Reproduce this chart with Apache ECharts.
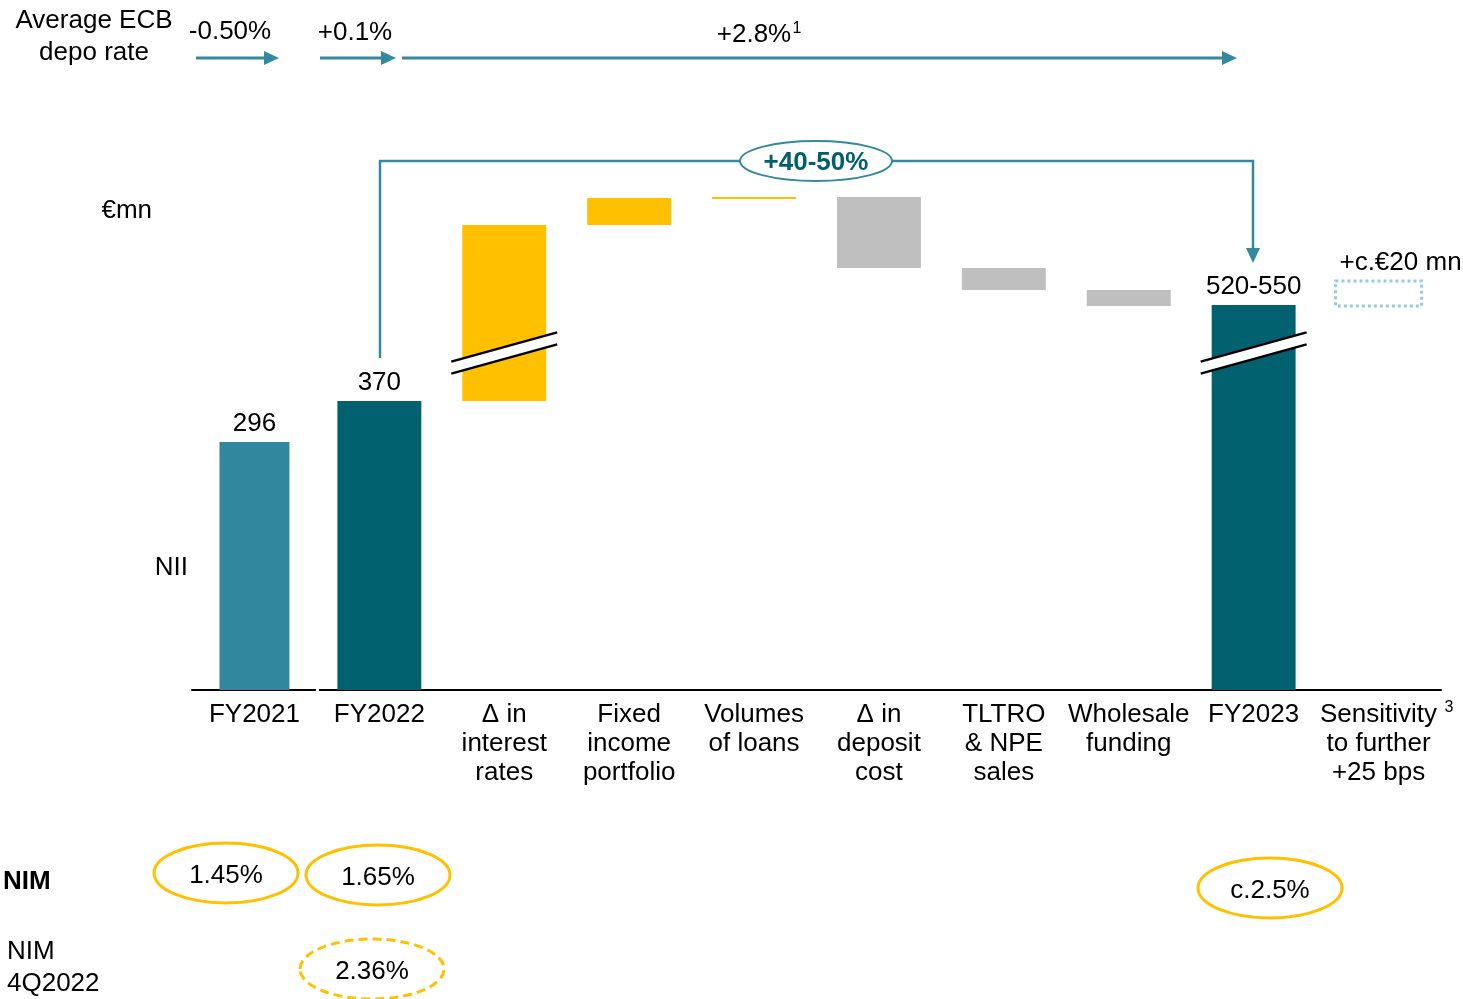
<!DOCTYPE html>
<html>
<head>
<meta charset="utf-8">
<title>NII bridge FY2022 - FY2023</title>
<script src="https://cdn.jsdelivr.net/npm/echarts@6/dist/echarts.min.js"></script>
<style>
  html, body { margin: 0; padding: 0; background: #fff; }
  #chart { width: 1463px; height: 999px; }
</style>
</head>
<body>
<div id="chart"></div>
<script>
// categories along the bridge
const categories = [
  'FY2021', 'FY2022', 'Δ in\ninterest\nrates', 'Fixed\nincome\nportfolio',
  'Volumes\nof loans', 'Δ in\ndeposit\ncost', 'TLTRO\n& NPE\nsales',
  'Wholesale\nfunding', 'FY2023', 'Sensitivity\nto further\n+25 bps'
]
// bar bottoms / tops, in the drawing scale of the slide (axis is broken, not to scale)
const barLow  = [0,   0,   289, 465, 491.5, 422, 400, 384, 0,   384]
const barHigh = [248, 289, 465, 492, 493,   493, 422, 400, 385, 409]
const barKind = ['prev', 'base', 'up', 'up', 'up', 'down', 'down', 'down', 'base', 'sens']
const barLabels = ['296', '370', '', '', '', '', '', '', '520-550', '+c.€20 mn']
const brokenBars = [2, 8]

// ECB depo rate path (top arrows)
const rateLabels = ['-0.50%', '+0.1%', '+2.8%']
// NIM bubbles
const nimLabels = ['1.45%', '1.65%', 'c.2.5%']
const nim4QLabel = '2.36%'
const growthLabel = '+40-50%'

const FONT = "'Liberation Sans', Arial, sans-serif"
const TEAL = '#338a9f'
const colors = {
  prev: '#31879e',
  base: '#02616f',
  up: '#ffc000',
  down: '#bfbfbf',
  sens: '#92cddc',
}

const chart = echarts.init(document.getElementById('chart'))

function renderItem(params, api) {
  const i = api.value(0)
  const lo = api.value(1)
  const hi = api.value(2)
  const kind = barKind[i]
  const band = api.size([1, 0])[0]
  const w = band * (i === 0 ? 0.56 : kind === 'sens' ? 0.69 : 0.672)
  const top = api.coord([i, hi])
  const bot = api.coord([i, lo])
  const cx = top[0]
  const h = Math.max(2, bot[1] - top[1])
  const children = []

  if (kind === 'sens') {
    children.push({
      type: 'rect',
      shape: { x: cx - w / 2, y: top[1], width: w, height: h },
      style: { fill: null, stroke: colors.sens, lineWidth: 3, lineDash: [3, 3] },
    })
  } else {
    children.push({
      type: 'rect',
      shape: { x: cx - w / 2, y: top[1], width: w, height: h },
      style: { fill: colors[kind] },
    })
  }

  if (brokenBars.includes(i)) {
    const cy = api.coord([i, 337])[1]
    const dx = w / 2 + 11
    const dy = dx * 0.276
    const gap = 6
    children.push({
      type: 'polygon',
      shape: { points: [[cx - dx, cy - gap + dy], [cx + dx, cy - gap - dy], [cx + dx, cy + gap - dy], [cx - dx, cy + gap + dy]] },
      style: { fill: '#fff' },
    })
    children.push({
      type: 'line',
      shape: { x1: cx - dx, y1: cy - gap + dy, x2: cx + dx, y2: cy - gap - dy },
      style: { stroke: '#000', lineWidth: 2.5 },
    })
    children.push({
      type: 'line',
      shape: { x1: cx - dx, y1: cy + gap + dy, x2: cx + dx, y2: cy + gap - dy },
      style: { stroke: '#000', lineWidth: 2.5 },
    })
  }

  if (barLabels[i]) {
    const isSens = kind === 'sens'
    children.push({
      type: 'text',
      style: {
        text: barLabels[i],
        x: isSens ? cx - w / 2 + 4 : cx,
        y: top[1] - 18,
        align: isSens ? 'left' : 'center',
        verticalAlign: 'middle',
        font: `26px ${FONT}`,
        fill: '#000',
      },
    })
  }

  return { type: 'group', children }
}

function arrow(x1, x2, y) {
  return [
    { type: 'line', shape: { x1, y1: y, x2: x2 - 12, y2: y }, style: { stroke: TEAL, lineWidth: 3 } },
    { type: 'polygon', shape: { points: [[x2 - 15, y - 7], [x2, y], [x2 - 15, y + 7]] }, style: { fill: TEAL } },
  ]
}

function txt(text, x, y, opts = {}) {
  return {
    type: 'text',
    z: 10,
    style: {
      text,
      x,
      y: y + 2,
      align: opts.align || 'center',
      verticalAlign: 'middle',
      font: `${opts.bold ? 'bold ' : ''}${opts.size || 26}px ${FONT}`,
      fill: opts.color || '#000',
    },
  }
}

function bubble(text, cx, cy, dashed) {
  return [
    {
      type: 'ellipse',
      shape: { cx, cy, rx: 72, ry: 30 },
      style: { fill: null, stroke: '#ffc000', lineWidth: 3, lineDash: dashed ? [9, 5] : null },
    },
    txt(text, cx, cy + 1),
  ]
}

const graphics = [
  // ECB depo rate header
  txt('Average ECB', 94, 19),
  txt('depo rate', 94, 51),
  txt(rateLabels[0], 230, 30),
  txt(rateLabels[1], 355, 31),
  txt(rateLabels[2], 754, 33),
  txt('1', 797, 27, { size: 16, align: 'center' }),
  ...arrow(196, 279, 58),
  ...arrow(320, 396, 58),
  ...arrow(402, 1237, 58),

  // growth bracket FY2022 -> FY2023
  {
    type: 'polyline',
    shape: { points: [[380, 358], [380, 161], [1253, 161], [1253, 250]] },
    style: { stroke: TEAL, lineWidth: 2.5, fill: null },
  },
  { type: 'polygon', shape: { points: [[1246, 248], [1260, 248], [1253, 263]] }, style: { fill: TEAL } },
  {
    type: 'ellipse',
    shape: { cx: 816, cy: 161, rx: 76, ry: 20 },
    style: { fill: '#fff', stroke: TEAL, lineWidth: 2 },
  },
  txt(growthLabel, 816, 161, { bold: true, color: '#005f6e' }),

  // side labels
  txt('€mn', 152, 209, { align: 'right' }),
  txt('NII', 188, 566, { align: 'right' }),
  txt('3', 1449, 706, { size: 16 }),

  // small gap in the baseline
  { type: 'rect', z: 20, shape: { x: 316, y: 686, width: 3, height: 8 }, style: { fill: '#fff' } },

  // NIM rows
  txt('NIM', 3, 880, { align: 'left', bold: true }),
  txt('NIM', 7, 950, { align: 'left' }),
  txt('4Q2022', 7, 982, { align: 'left' }),
  ...bubble(nimLabels[0], 226, 873),
  ...bubble(nimLabels[1], 378, 875),
  ...bubble(nimLabels[2], 1270, 888),
  ...bubble(nim4QLabel, 372, 969, true),
]

const option = {
  animation: false,
  grid: { left: 192, right: 22, top: 190, bottom: 309 },
  xAxis: {
    type: 'category',
    data: categories,
    axisLine: { lineStyle: { color: '#000', width: 2 } },
    axisTick: { show: false },
    axisLabel: {
      interval: 0,
      color: '#000',
      fontSize: 26,
      fontFamily: FONT,
      lineHeight: 29,
      margin: 10,
    },
  },
  yAxis: {
    type: 'value',
    min: 0,
    max: 500,
    show: false,
    splitLine: { show: false },
  },
  series: [
    {
      type: 'custom',
      renderItem,
      clip: false,
      encode: { x: 0, y: [1, 2] },
      data: categories.map((c, i) => [i, barLow[i], barHigh[i]]),
    },
  ],
  graphic: graphics,
}

chart.setOption(option)
</script>
</body>
</html>
